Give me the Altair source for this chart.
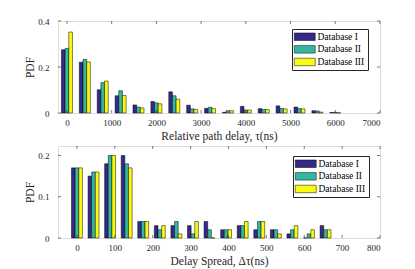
import altair as alt
import pandas as pd

series = ["Database I", "Database II", "Database III"]
colors = ["#352a87", "#33b8a1", "#f9fb0e"]

# Top panel: relative path delay (ns)
top_centers = [0, 400, 800, 1200, 1600, 2000, 2400, 2800, 3200, 3600, 4000, 4400, 4800, 5200, 5600, 6000]
top_db1 = [0.275, 0.221, 0.101, 0.075, 0.035, 0.050, 0.092, 0.034, 0.020, 0.003, 0.029, 0.019, 0.031, 0.026, 0.010, 0.002]
top_db2 = [0.281, 0.233, 0.132, 0.097, 0.026, 0.044, 0.075, 0.018, 0.025, 0.010, 0.013, 0.015, 0.020, 0.019, 0.009, 0.003]
top_db3 = [0.352, 0.222, 0.139, 0.076, 0.022, 0.040, 0.060, 0.016, 0.019, 0.010, 0.013, 0.015, 0.018, 0.018, 0.004, 0.001]
top_xticks = [0, 1000, 2000, 3000, 4000, 5000, 6000, 7000]
top_yticks = [0, 0.2, 0.4]

# Bottom panel: delay spread (ns)
bot_centers = [0, 43.75, 87.5, 131.25, 175, 218.75, 262.5, 306.25, 350, 393.75, 437.5, 481.25, 525, 568.75, 612.5, 656.25]
bot_db1 = [0.17, 0.15, 0.18, 0.20, 0.04, 0.03, 0.03, 0.03, 0.04, 0.02, 0.03, 0.02, 0.02, 0.01, 0.0, 0.03]
bot_db2 = [0.17, 0.16, 0.20, 0.18, 0.04, 0.02, 0.04, 0.01, 0.02, 0.02, 0.03, 0.04, 0.02, 0.02, 0.01, 0.02]
bot_db3 = [0.17, 0.16, 0.20, 0.17, 0.04, 0.03, 0.01, 0.04, 0.0, 0.02, 0.04, 0.04, 0.01, 0.03, 0.02, 0.02]
bot_xticks = [0, 100, 200, 300, 400, 500, 600, 700, 800]
bot_yticks = [0, 0.1, 0.2]

W, H = 322, 92
FONT = "Liberation Serif"
AXC = "#262626"
LEGEND_PATH = "M-2.8,-1L2.8,-1L2.8,1L-2.8,1Z"


def bars_frame(centers, vals, barw):
    rows = []
    for j, (name, v) in enumerate(zip(series, vals)):
        for c, y in zip(centers, v):
            x0 = c + (j - 1) * barw - barw / 2
            rows.append({"x0": x0, "x1": x0 + barw, "v": y, "s": name})
    return pd.DataFrame(rows)


def panel(centers, vals, barw, xdom, ydom, xticks, yticks, xtitle, lx, ly):
    df = bars_frame(centers, vals, barw)
    xs = alt.Scale(domain=xdom, nice=False, zero=False)
    ys = alt.Scale(domain=ydom, nice=False)
    xaxis = alt.Axis(values=xticks, format="d", ticks=False, domain=False,
                     grid=False, labelPadding=5, titlePadding=3,
                     labelFontSize=9, titleFontSize=11.5, labelFont=FONT,
                     titleFont=FONT, labelColor=AXC, titleColor=AXC,
                     titleFontWeight="normal")
    yaxis = alt.Axis(values=yticks, format="~g", ticks=False, domain=False,
                     grid=False, labelPadding=9, titlePadding=2,
                     labelFontSize=9, titleFontSize=11.5, labelFont=FONT,
                     titleFont=FONT, labelColor=AXC, titleColor=AXC,
                     titleFontWeight="normal")
    bars = alt.Chart(df).mark_rect(stroke="black", strokeWidth=0.5).encode(
        x=alt.X("x0:Q", scale=xs, title=xtitle, axis=xaxis),
        x2="x1:Q",
        y=alt.Y("v:Q", scale=ys, title="PDF", axis=yaxis),
        y2=alt.datum(0),
        color=alt.Color("s:N", scale=alt.Scale(domain=series, range=colors),
                        legend=alt.Legend(title=None, orient="none", legendX=lx, legendY=ly,
                                          symbolType=LEGEND_PATH, symbolSize=56,
                                          symbolStrokeColor="black", symbolStrokeWidth=0.5,
                                          symbolOffset=5, labelOffset=8,
                                          labelFont=FONT, labelFontSize=9.5, labelColor="black",
                                          rowPadding=1.6, padding=3,
                                          strokeColor=AXC, fillColor="white")),
    )
    xt = pd.DataFrame({"t": xticks})
    yt = pd.DataFrame({"t": yticks})
    xb = alt.Chart(xt).mark_rule(color=AXC, strokeWidth=0.6).encode(
        x=alt.X("t:Q", scale=xs, title=xtitle, axis=xaxis), y=alt.value(H), y2=alt.value(H - 3))
    xtop = alt.Chart(xt).mark_rule(color=AXC, strokeWidth=0.6).encode(
        x=alt.X("t:Q", scale=xs, title=xtitle, axis=xaxis), y=alt.value(0), y2=alt.value(3))
    yl = alt.Chart(yt).mark_rule(color=AXC, strokeWidth=0.6).encode(
        y=alt.Y("t:Q", scale=ys, title="PDF", axis=yaxis), x=alt.value(0), x2=alt.value(3))
    yr = alt.Chart(yt).mark_rule(color=AXC, strokeWidth=0.6).encode(
        y=alt.Y("t:Q", scale=ys, title="PDF", axis=yaxis), x=alt.value(W), x2=alt.value(W - 3))
    return alt.layer(bars, xb, xtop, yl, yr).properties(width=W, height=H)


top = panel(top_centers, [top_db1, top_db2, top_db3], 82, [-200, 7000], [0, 0.4],
            top_xticks, top_yticks, "Relative path delay, τ(ns)", 234, 8)
bot = panel(bot_centers, [bot_db1, bot_db2, bot_db3], 9.6, [-50, 800], [0, 0.223],
            bot_xticks, bot_yticks, "Delay Spread, Δτ(ns)", 235, 10)

chart = alt.vconcat(top, bot, spacing=3).resolve_scale(color="independent").properties(
    padding={"left": 16, "top": 8, "right": 5, "bottom": 2}
).configure_view(stroke=AXC, strokeWidth=0.8).configure(background="white")

chart.save("out.html", embed_options={"renderer": "svg", "actions": False})
